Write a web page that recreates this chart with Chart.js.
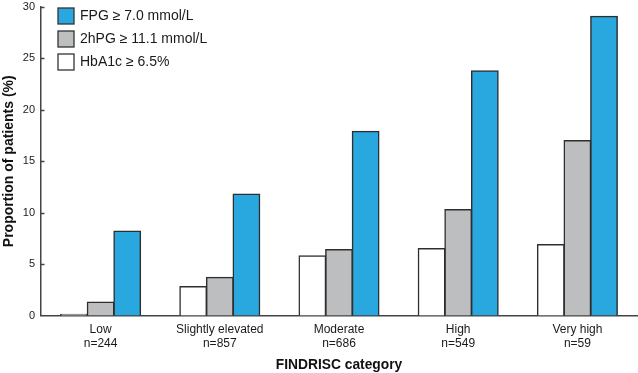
<!DOCTYPE html>
<html>
<head>
<meta charset="utf-8">
<script src="https://cdn.jsdelivr.net/npm/chart.js@4/dist/chart.umd.min.js"></script>
<style>
html,body{margin:0;padding:0;background:#fff;}
#wrap{width:638px;height:373px;position:relative;}
</style>
</head>
<body>
<div id="wrap"><canvas id="c" width="638" height="373"></canvas></div>
<script>
const categories = [['Low','n=244'],['Slightly elevated','n=857'],['Moderate','n=686'],['High','n=549'],['Very high','n=59']];
const hba1c = [0.1, 2.8, 5.8, 6.5, 6.9];
const hpg2 = [1.3, 3.7, 6.4, 10.3, 17.0];
const fpg = [8.2, 11.8, 17.9, 23.8, 29.1];
const seriesLabels = ['HbA1c \u2265 6.5%', '2hPG \u2265 11.1 mmol/L', 'FPG \u2265 7.0 mmol/L'];
const yTicks = [0, 5, 10, 15, 20, 25, 30];

const FONT = '"Liberation Sans", Arial, Helvetica, sans-serif';
const AXIS = '#444';

const innerTicks = {
  id: 'innerTicks',
  afterDraw(chart) {
    const ctx = chart.ctx, y = chart.scales.y, area = chart.chartArea;
    ctx.save();
    ctx.strokeStyle = AXIS;
    ctx.lineWidth = 1.5;
    yTicks.forEach(v => {
      if (v === 0) return;
      const py = Math.round(y.getPixelForValue(v)) + 0.5;
      ctx.beginPath();
      ctx.moveTo(area.left, py);
      ctx.lineTo(area.left + 3.5, py);
      ctx.stroke();
    });
    ctx.restore();
  }
};

const boxLegend = {
  id: 'boxLegend',
  afterDraw(chart) {
    const ctx = chart.ctx;
    const ds = chart.data.datasets.slice().reverse();
    ctx.save();
    ctx.font = '14px ' + FONT;
    ctx.textBaseline = 'middle';
    ds.forEach((d, i) => {
      const x = 58, y = 8 + i * 23;
      ctx.fillStyle = d.backgroundColor;
      ctx.fillRect(x, y, 16, 16);
      ctx.strokeStyle = '#333';
      ctx.lineWidth = 1.3;
      ctx.strokeRect(x, y, 16, 16);
      ctx.fillStyle = '#1a1a1a';
      ctx.fillText(d.label, 80, y + 8.5);
    });
    ctx.restore();
  }
};

new Chart(document.getElementById('c'), {
  type: 'bar',
  data: {
    labels: categories,
    datasets: [
      { label: seriesLabels[0], data: hba1c, backgroundColor: '#ffffff', borderColor: '#2e2e2e', borderWidth: 1.5, inflateAmount: 0.6 },
      { label: seriesLabels[1], data: hpg2, backgroundColor: '#bdbec0', borderColor: '#2e2e2e', borderWidth: 1.5, inflateAmount: 0.6 },
      { label: seriesLabels[2], data: fpg, backgroundColor: '#29a8e0', borderColor: '#2e2e2e', borderWidth: 1.5, inflateAmount: 0.6 }
    ]
  },
  options: {
    responsive: false,
    animation: false,
    layout: { padding: { top: 7, right: 1, left: 0, bottom: 0 } },
    datasets: { bar: { categoryPercentage: 0.67, barPercentage: 1.0 } },
    plugins: { legend: { display: false }, tooltip: { enabled: false } },
    scales: {
      x: {
        grid: { display: false, drawTicks: false },
        border: { display: true, color: AXIS, width: 1.5 },
        ticks: { color: '#1a1a1a', font: { family: FONT, size: 12 }, padding: 7, maxRotation: 0, autoSkip: false },
        title: { display: true, text: 'FINDRISC category', color: '#111', font: { family: FONT, size: 13.8, weight: 'bold' }, padding: { top: 3, bottom: 0 } },
        afterFit(s) { s.height = 57.5; s.paddingLeft = 0; s.paddingRight = 0; }
      },
      y: {
        min: 0, max: 30,
        afterBuildTicks(s) { s.ticks = yTicks.map(v => ({ value: v })); },
        grid: { display: false, drawTicks: false },
        border: { display: true, color: AXIS, width: 1.5 },
        ticks: { color: '#1a1a1a', font: { family: FONT, size: 11 }, padding: 6 },
        title: { display: true, text: 'Proportion of patients (%)', color: '#111', font: { family: FONT, size: 14, weight: 'bold' }, padding: { top: 1, bottom: 0 } },
        afterFit(s) { s.width = 41; s.paddingTop = 0; s.paddingBottom = 0; }
      }
    }
  },
  plugins: [innerTicks, boxLegend]
});
</script>
</body>
</html>
